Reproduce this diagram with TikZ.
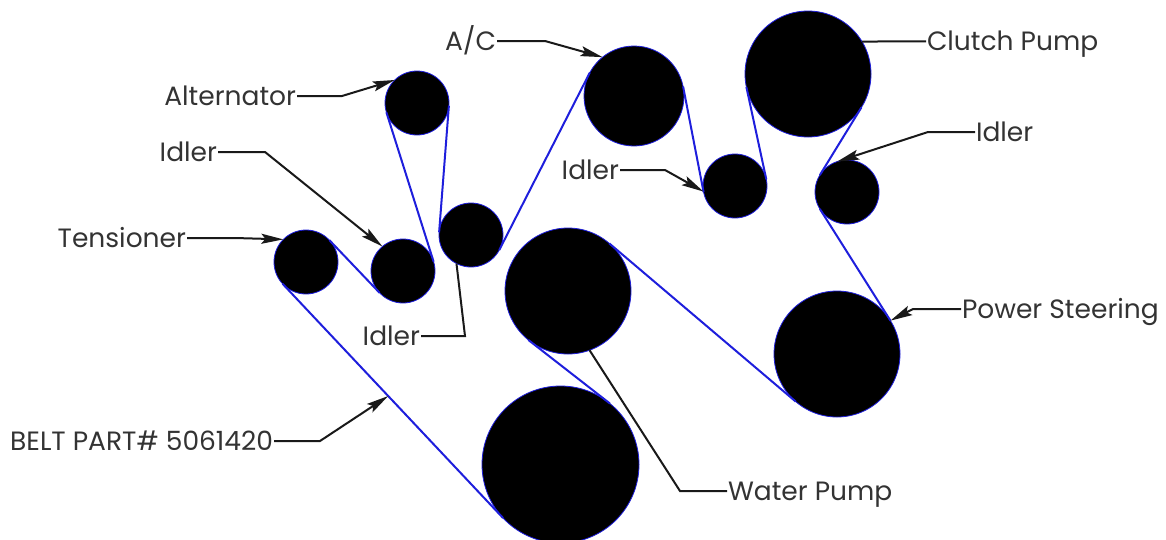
\documentclass[tikz,border=0pt]{standalone}
\usepackage{fontspec}
\setmainfont{Poppins}
\usetikzlibrary{arrows.meta}
\tikzstyle{pulleySmall}=[shape = circle, minimum size = 64pt, inner sep = 0pt, outer sep = 0pt, draw = beltBlue, fill = black, line width = 0.8pt]
\tikzstyle{pulleyMedium}=[pulleySmall, minimum size = 100pt]
\tikzstyle{pulleyLarge}=[pulleySmall, minimum size = 126pt]
\tikzstyle{pulleyCrank}=[pulleySmall, minimum size = 157pt]
\tikzstyle{partLabel}=[inner sep = 0pt, outer sep = 1pt, text height = 19pt, text depth = 0pt, font = \fontsize{26.5}{27}\selectfont, text = black!80]
\tikzstyle{beltLine}=[draw = beltBlue, line width = 2pt]
\tikzstyle{leaderLine}=[draw = black!90, line width = 2pt]
\tikzstyle{leaderArrow}=[leaderLine, -{Stealth[length = 22pt, width = 10pt, inset = 4pt]}]
\definecolor{beltBlue}{RGB}{30,30,220}
\begin{document}
\begin{tikzpicture}[x = 1pt, y = -1pt]
\useasboundingbox (0,0) rectangle (1166,539);
\node[pulleySmall] (alternator) at (417,103) {};
\node[pulleySmall] (idlerA) at (403,271) {};
\node[pulleySmall] (tensioner) at (306,262) {};
\node[pulleySmall] (idlerB) at (471,235) {};
\node[pulleyMedium] (ac) at (634,96) {};
\node[pulleySmall] (idlerC) at (735,186) {};
\node[pulleyLarge] (clutch) at (808,74) {};
\node[pulleySmall] (idlerD) at (847,192) {};
\node[pulleyLarge] (steering) at (837,354) {};
\node[pulleyLarge] (water) at (568,291) {};
\node[pulleyCrank] (crank) at (560.5,464.5) {};
\node[partLabel, anchor = east] (lAlternator) at (297,96) {Alternator};
\node[partLabel, anchor = east] (lIdlerA) at (218,152) {Idler};
\node[partLabel, anchor = east] (lTensioner) at (187,238) {Tensioner};
\node[partLabel, anchor = east] (lIdlerB) at (421,336) {Idler};
\node[partLabel, anchor = east] (lBelt) at (274,441) {BELT PART\# 5061420};
\node[partLabel, anchor = east] (lAc) at (497,41) {A/C};
\node[partLabel, anchor = east] (lIdlerC) at (620,170) {Idler};
\node[partLabel, anchor = west] (lWater) at (727,491) {Water Pump};
\node[partLabel, anchor = west] (lIdlerD) at (975,132) {Idler};
\node[partLabel, anchor = west] (lSteering) at (961,309) {Power Steering};
\node[partLabel, anchor = west] (lClutch) at (926,41) {Clutch Pump};
\draw[beltLine] (tensioner.43.6) -- (idlerA.223.6);
\draw[beltLine] (idlerA.17.5) -- (alternator.197.5);
\draw[beltLine] (alternator.355.5) -- (idlerB.175.5);
\draw[beltLine] (idlerB.332.9) -- (ac.152.9);
\draw[beltLine] (ac.11) -- (idlerC.191);
\draw[beltLine] (idlerC.12.2) -- (clutch.192.2);
\draw[beltLine] (clutch.328.5) -- (idlerD.148.5);
\draw[beltLine] (idlerD.212.2) -- (steering.32.2);
\draw[beltLine] (steering.229.7) -- (water.49.7);
\draw[beltLine] (water.231.9) -- (crank.51.9);
\draw[beltLine] (crank.223.4) -- coordinate[pos = 0.521] (beltPoint) (tensioner.223.4);
\draw[leaderArrow] (lAlternator) -- (342,96) -- (alternator.134);
\draw[leaderArrow] (lIdlerA) -- (265,152) -- (idlerA.130);
\draw[leaderArrow] (lTensioner) -- (235,238) -- (tensioner.135);
\draw[leaderLine] (lIdlerB) -- (465,336) -- (idlerB.243);
\draw[leaderArrow] (lBelt) -- (320,441) -- (beltPoint);
\draw[leaderLine] (lWater) -- (680,491) -- (water.290);
\draw[leaderArrow] (lAc) -- (545,41) -- (ac.129);
\draw[leaderArrow] (lIdlerC) -- (665,170) -- (idlerC.190);
\draw[leaderArrow] (lIdlerD) -- (928,132) -- (idlerD.108);
\draw[leaderArrow] (lSteering) -- (913,309) -- (steering.32);
\draw[leaderLine] (lClutch) -- (clutch.31.6);
\end{tikzpicture}
\end{document}
